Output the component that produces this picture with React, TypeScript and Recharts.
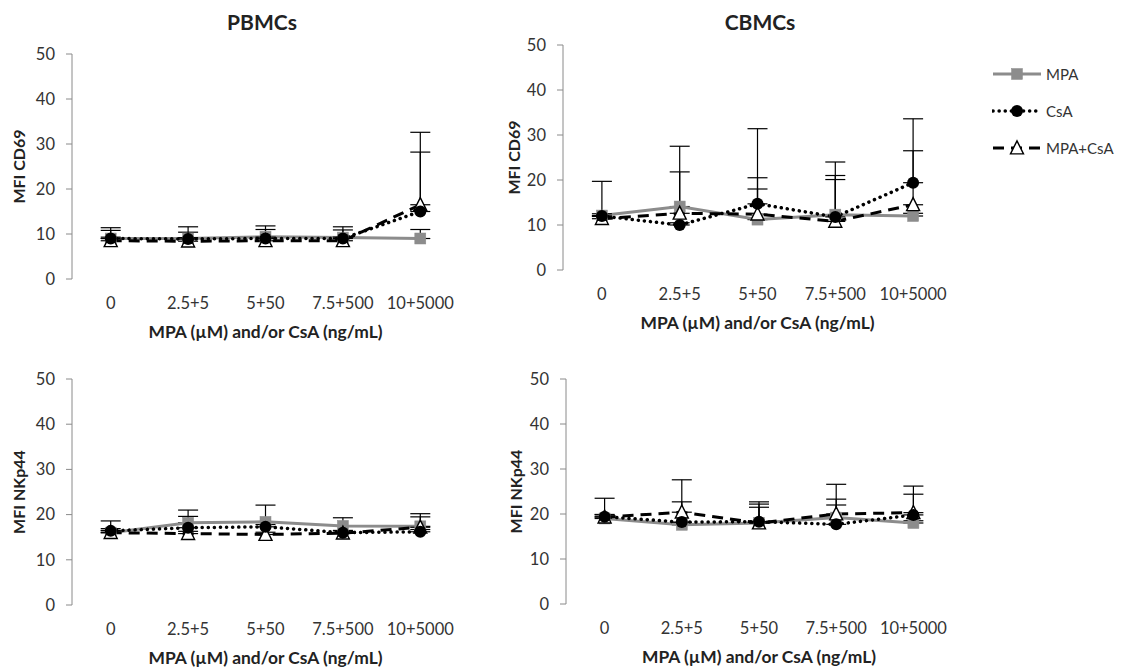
import React from 'react';
import { LineChart, Line, XAxis, YAxis, ErrorBar, Legend } from 'recharts';

const categories = ['0', '2.5+5', '5+50', '7.5+500', '10+5000'];
const xTitle = 'MPA (µM) and/or CsA (ng/mL)';
const yTicks = [0, 10, 20, 30, 40, 50];
const boundaryTicks = [0, 1, 2, 3, 4, 5];
const seriesNames = ['MPA', 'CsA', 'MPA+CsA'];

// PBMCs – MFI CD69
const pbmcCd69Mpa = [9, 9, 9.4, 9.2, 9];
const pbmcCd69MpaErr = [1.8, 2.6, 2.4, 2.4, 2.0];
const pbmcCd69Csa = [9, 8.9, 9, 9, 15];
const pbmcCd69CsaErr = [2.4, 1.5, 2.0, 1.9, 13.2];
const pbmcCd69Combo = [8.5, 8.4, 8.5, 8.5, 16.5];
const pbmcCd69ComboErr = [0.8, 0.8, 0.8, 0.8, 16.1];

// CBMCs – MFI CD69
const cbmcCd69Mpa = [12.1, 14.1, 11.2, 12.3, 12];
const cbmcCd69MpaErr = [7.6, 13.4, 6.8, 11.7, 0.6];
const cbmcCd69Csa = [12, 10, 14.7, 11.8, 19.4];
const cbmcCd69CsaErr = [0.5, 0.5, 16.7, 9.2, 14.2];
const cbmcCd69Combo = [11.4, 12.6, 12.4, 10.8, 14.5];
const cbmcCd69ComboErr = [0.5, 9.2, 8.1, 9.3, 12];

// PBMCs – MFI NKp44
const pbmcNkMpa = [16, 18.2, 18.4, 17.5, 17.4];
const pbmcNkMpaErr = [2.6, 2.8, 3.7, 1.8, 2.8];
const pbmcNkCsa = [16.4, 17.1, 17.3, 16, 16.2];
const pbmcNkCsaErr = [0.5, 2.5, 0.5, 0.5, 0.5];
const pbmcNkCombo = [16, 15.8, 15.6, 15.9, 17.2];
const pbmcNkComboErr = [0.5, 0.5, 0.5, 0.5, 2.3];

// CBMCs – MFI NKp44
const cbmcNkMpa = [19, 17.6, 18, 19.2, 18];
const cbmcNkMpaErr = [4.5, 0.5, 3.5, 4.1, 0.5];
const cbmcNkCsa = [19.4, 18.2, 18.3, 17.7, 19.8];
const cbmcNkCsaErr = [0.5, 4.5, 3.9, 4.3, 6.4];
const cbmcNkCombo = [19.3, 20.4, 18, 20, 20.3];
const cbmcNkComboErr = [0.5, 7.2, 4.7, 6.6, 4.1];

const FONT = 'Lato, "Open Sans", sans-serif';
const AXIS_GREY = '#8a8a8a';
const TEXT = '#333333';

function buildData(mpa, mpaErr, csa, csaErr, combo, comboErr) {
  return categories.map((c, i) => ({
    x: i + 0.5,
    cat: c,
    mpa: mpa[i],
    mpaErr: [0, mpaErr[i]],
    csa: csa[i],
    csaErr: [0, csaErr[i]],
    combo: combo[i],
    comboErr: [0, comboErr[i]],
  }));
}

const SquareMark = ({ cx, cy, s = 11 }) => (
  <rect x={cx - s / 2} y={cy - s / 2} width={s} height={s} fill="#8c8c8c" stroke="#8c8c8c" strokeWidth={0.5} />
);
const CircleMark = ({ cx, cy, r = 6 }) => <circle cx={cx} cy={cy} r={r} fill="#000" />;
const TriangleMark = ({ cx, cy, s = 13 }) => (
  <polygon
    points={`${cx},${cy - s * 0.55} ${cx - s / 2},${cy + s * 0.45} ${cx + s / 2},${cy + s * 0.45}`}
    fill="#fff"
    stroke="#000"
    strokeWidth={1.4}
  />
);

const seriesStyle = {
  MPA: { stroke: '#8c8c8c', width: 3, dash: undefined, cap: 'butt', Mark: SquareMark },
  CsA: { stroke: '#000', width: 3.5, dash: '0.1 6', cap: 'round', Mark: CircleMark },
  'MPA+CsA': { stroke: '#000', width: 3, dash: '11 7', cap: 'butt', Mark: TriangleMark },
};

const renderLegend = (props) => {
  const payload = [...(props.payload || [])].sort(
    (a, b) => seriesNames.indexOf(a.value) - seriesNames.indexOf(b.value)
  );
  return (
    <div style={{ fontFamily: FONT, fontSize: 15, color: TEXT }}>
      {payload.map((entry) => {
        const st = seriesStyle[entry.value];
        if (!st) return null;
        const M = st.Mark;
        return (
          <div key={entry.value} style={{ display: 'flex', alignItems: 'center', height: 37 }}>
            <svg width={52} height={20} style={{ display: 'block' }}>
              <line
                x1={1}
                y1={10}
                x2={49}
                y2={10}
                stroke={st.stroke}
                strokeWidth={st.width}
                strokeDasharray={st.dash}
                strokeLinecap={st.cap}
              />
              <M cx={25} cy={10} />
            </svg>
            <span style={{ marginLeft: 2 }}>{entry.value}</span>
          </div>
        );
      })}
    </div>
  );
};

function Panel({ plotLeft, plotTop, plotW, plotH, data, yLabel, yLabelOffset, showXTicks, withLegend }) {
  const yAxisW = 60;
  const mLeft = 10;
  const mRight = withLegend ? 170 : 12;
  const mTop = 10;
  const labelAxisH = 30;
  const mBottom = 40;
  const width = mLeft + yAxisW + plotW + mRight;
  const height = mTop + plotH + labelAxisH + mBottom;
  const lines = [
    { key: 'mpa', name: 'MPA' },
    { key: 'combo', name: 'MPA+CsA' },
    { key: 'csa', name: 'CsA' },
  ];
  const chartLeft = plotLeft - yAxisW - mLeft;
  return (
    <div style={{ position: 'absolute', left: chartLeft, top: plotTop - mTop }}>
      <LineChart width={width} height={height} data={data} margin={{ top: mTop, right: mRight, bottom: mBottom, left: mLeft }}>
        <XAxis
          xAxisId="marks"
          dataKey="x"
          type="number"
          domain={[0, 5]}
          allowDataOverflow
          ticks={boundaryTicks}
          tick={false}
          tickLine={showXTicks ? { stroke: AXIS_GREY } : false}
          tickSize={6}
          axisLine={{ stroke: AXIS_GREY }}
          height={0}
        />
        <XAxis
          xAxisId="lab"
          dataKey="x"
          type="number"
          domain={[0, 5]}
          allowDataOverflow
          ticks={data.map((d) => d.x)}
          tickFormatter={(v) => categories[Math.floor(v)]}
          tickLine={false}
          axisLine={false}
          tickSize={6}
          tickMargin={12}
          height={labelAxisH}
          tick={{ fontFamily: FONT, fontSize: 16.5, fill: TEXT }}
          label={{
            value: xTitle,
            position: 'bottom',
            offset: 17,
            style: { fontFamily: FONT, fontSize: 17.4, fontWeight: 700, fill: '#222' },
          }}
        />
        <YAxis
          type="number"
          domain={[0, 50]}
          ticks={yTicks}
          width={yAxisW}
          interval={0}
          tickSize={6}
          tickMargin={11}
          tickLine={{ stroke: AXIS_GREY }}
          axisLine={{ stroke: AXIS_GREY }}
          tick={{ fontFamily: FONT, fontSize: 16.5, fill: TEXT }}
          label={{
            value: yLabel,
            angle: -90,
            position: 'insideLeft',
            offset: yLabelOffset,
            style: { textAnchor: 'middle', fontFamily: FONT, fontSize: 16, fontWeight: 700, fill: '#222' },
          }}
        />
        {lines.map((l) => {
          const st = seriesStyle[l.name];
          const M = st.Mark;
          return (
            <Line
              key={l.key}
              xAxisId="lab"
              dataKey={l.key}
              name={l.name}
              type="linear"
              stroke={st.stroke}
              strokeWidth={st.width}
              strokeDasharray={st.dash}
              strokeLinecap={st.cap}
              isAnimationActive={false}
              dot={(p) => <M key={`${l.key}-${p.index}`} cx={p.cx} cy={p.cy} />}
              activeDot={false}
              legendType="line"
            >
              <ErrorBar dataKey={`${l.key}Err`} direction="y" width={10} stroke="#000" strokeWidth={1.2} />
            </Line>
          );
        })}
        {withLegend && (
          <Legend
            layout="vertical"
            align="center"
            verticalAlign="middle"
            content={renderLegend}
            wrapperStyle={{ position: 'absolute', left: 499, top: 20, width: 140, height: 111 }}
          />
        )}
      </LineChart>
    </div>
  );
}

const titleStyle = {
  position: 'absolute',
  fontFamily: FONT,
  fontWeight: 700,
  fontSize: 21,
  color: '#222',
  width: 200,
  textAlign: 'center',
  lineHeight: '24px',
};

export default function App() {
  return (
    <div style={{ position: 'absolute', left: 0, top: 0, width: 1121, height: 669, background: '#fff', overflow: 'hidden' }}>
      <div style={{ ...titleStyle, left: 162, top: 10 }}>PBMCs</div>
      <div style={{ ...titleStyle, left: 660, top: 10 }}>CBMCs</div>
      <Panel
        plotLeft={72}
        plotTop={54}
        plotW={387}
        plotH={225}
        yLabel="MFI CD69"
        yLabelOffset={7}
        showXTicks
        data={buildData(pbmcCd69Mpa, pbmcCd69MpaErr, pbmcCd69Csa, pbmcCd69CsaErr, pbmcCd69Combo, pbmcCd69ComboErr)}
      />
      <Panel
        plotLeft={563}
        plotTop={45}
        plotW={389}
        plotH={225}
        yLabel="MFI CD69"
        yLabelOffset={11}
        showXTicks={false}
        withLegend
        data={buildData(cbmcCd69Mpa, cbmcCd69MpaErr, cbmcCd69Csa, cbmcCd69CsaErr, cbmcCd69Combo, cbmcCd69ComboErr)}
      />
      <Panel
        plotLeft={72}
        plotTop={379}
        plotW={387}
        plotH={226}
        yLabel="MFI NKp44"
        yLabelOffset={7}
        showXTicks
        data={buildData(pbmcNkMpa, pbmcNkMpaErr, pbmcNkCsa, pbmcNkCsaErr, pbmcNkCombo, pbmcNkComboErr)}
      />
      <Panel
        plotLeft={566}
        plotTop={379}
        plotW={386}
        plotH={225}
        yLabel="MFI NKp44"
        yLabelOffset={10}
        showXTicks={false}
        data={buildData(cbmcNkMpa, cbmcNkMpaErr, cbmcNkCsa, cbmcNkCsaErr, cbmcNkCombo, cbmcNkComboErr)}
      />
    </div>
  );
}
